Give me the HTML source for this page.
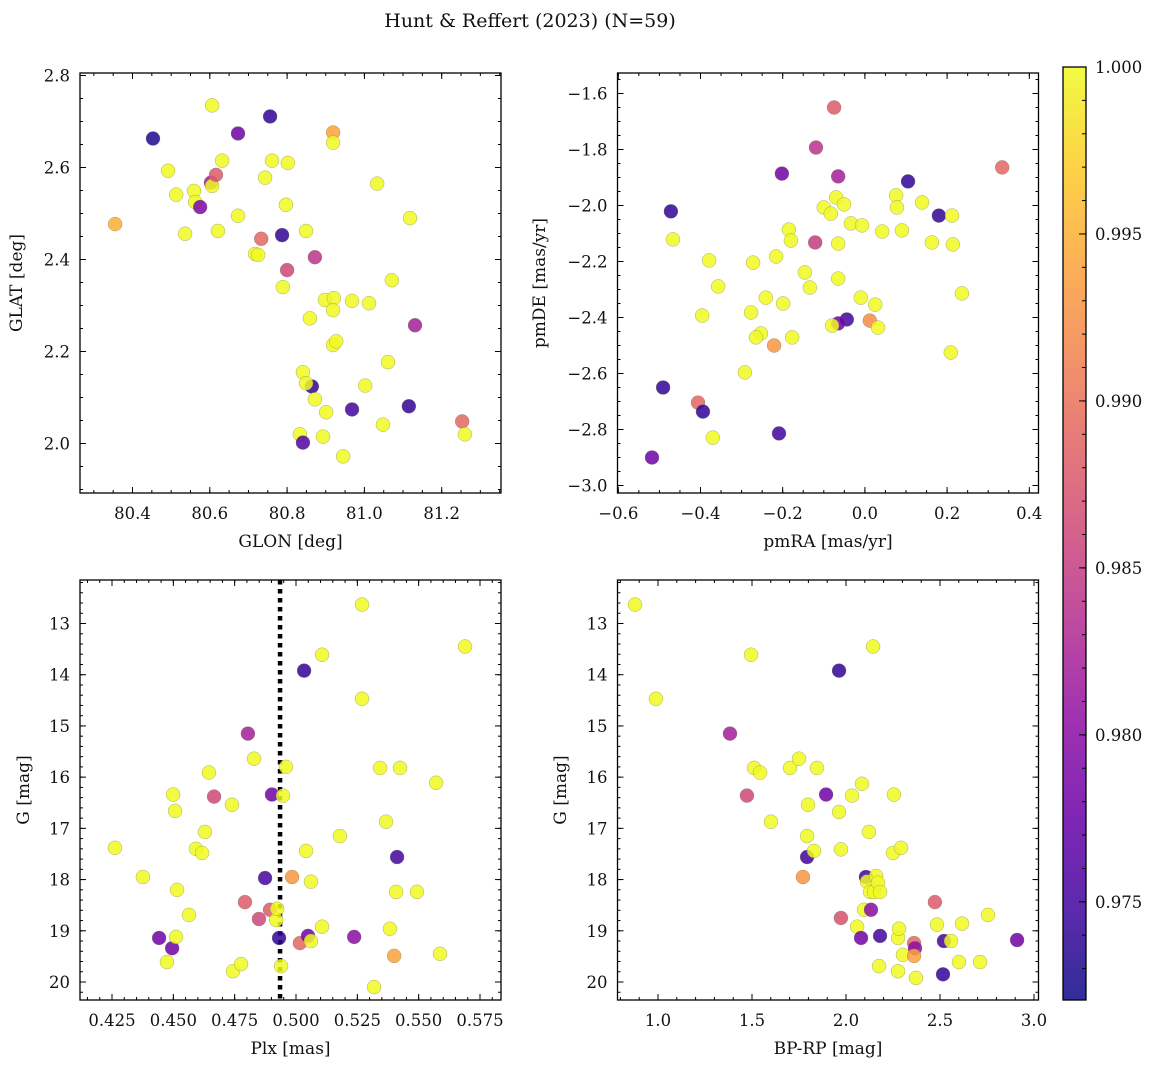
<!DOCTYPE html>
<html><head><meta charset="utf-8"><style>
html,body{margin:0;padding:0;background:#fff;}
svg text{font-family:"DejaVu Serif","Liberation Serif",serif;fill:#111;}
</style></head><body>
<svg id="fig" xmlns="http://www.w3.org/2000/svg" width="1160" height="1067" viewBox="0 0 1160 1067">
<defs>
<linearGradient id="plasma" x1="0" y1="1" x2="0" y2="0">
<stop offset="0" stop-color="#0d0887"/><stop offset="0.1" stop-color="#41049d"/><stop offset="0.2" stop-color="#6a00a8"/><stop offset="0.3" stop-color="#8f0da4"/><stop offset="0.4" stop-color="#b12a90"/><stop offset="0.5" stop-color="#cc4778"/><stop offset="0.6" stop-color="#e16462"/><stop offset="0.7" stop-color="#f2844b"/><stop offset="0.8" stop-color="#fca636"/><stop offset="0.9" stop-color="#fcce25"/><stop offset="1" stop-color="#f0f921"/>
</linearGradient>
</defs>
<text x="530" y="27" font-size="19" text-anchor="middle">Hunt &amp; Reffert (2023) (N=59)</text>
</svg>
<script>
// ---- data ----
const glon = [80.355,80.453,80.492,80.513,80.536,80.559,80.562,80.575,80.606,80.603,80.606,80.616,80.621,80.632,80.673,80.673,80.717,80.725,80.733,80.743,80.756,80.761,80.787,80.789,80.800,80.802,80.797,80.849,80.859,80.864,80.872,80.872,80.841,80.849,80.833,80.841,80.893,80.898,80.919,80.919,80.921,80.919,80.919,80.927,80.901,80.945,80.968,80.968,81.012,81.002,81.033,81.048,81.061,81.071,81.118,81.115,81.131,81.253,81.260];
const glat = [2.477,2.663,2.593,2.541,2.456,2.549,2.525,2.514,2.735,2.567,2.560,2.584,2.462,2.615,2.674,2.495,2.412,2.410,2.445,2.578,2.711,2.615,2.453,2.340,2.377,2.610,2.519,2.462,2.272,2.124,2.405,2.096,2.155,2.131,2.020,2.002,2.015,2.312,2.676,2.654,2.316,2.290,2.214,2.222,2.068,1.972,2.310,2.074,2.305,2.126,2.565,2.041,2.177,2.355,2.490,2.081,2.257,2.048,2.020];
const prob1 = [0.995,0.973,1,1,1,1,1,0.979,1,0.982,1,0.988,1,1,0.978,1,1,1,0.989,1,0.974,1,0.974,1,0.986,1,1,1,1,0.974,0.984,1,1,1,1,0.976,1,1,0.994,1,1,1,1,1,1,1,1,0.975,1,1,1,1,1,1,1,0.974,0.982,0.989,1];

const pmra = [-0.075,0.334,-0.119,-0.202,-0.065,0.105,-0.472,0.180,-0.070,-0.051,-0.100,-0.083,-0.034,-0.007,0.042,0.076,0.078,0.090,0.139,0.212,0.163,0.214,0.236,0.209,-0.467,-0.185,-0.180,-0.121,-0.065,-0.216,-0.379,-0.272,-0.146,-0.065,-0.357,-0.134,-0.241,-0.199,-0.010,0.025,-0.396,-0.277,-0.044,-0.065,-0.080,0.012,0.032,-0.253,-0.265,-0.177,-0.221,-0.292,-0.491,-0.406,-0.394,-0.209,-0.370,-0.518];
const pmde = [-1.65,-1.864,-1.793,-1.886,-1.896,-1.914,-2.021,-2.036,-1.971,-1.996,-2.007,-2.029,-2.064,-2.071,-2.093,-1.964,-2.007,-2.089,-1.989,-2.036,-2.132,-2.139,-2.314,-2.525,-2.121,-2.086,-2.125,-2.132,-2.136,-2.182,-2.196,-2.204,-2.239,-2.261,-2.289,-2.293,-2.329,-2.35,-2.329,-2.354,-2.393,-2.382,-2.407,-2.421,-2.429,-2.411,-2.436,-2.457,-2.471,-2.471,-2.5,-2.596,-2.65,-2.704,-2.736,-2.814,-2.829,-2.9];
const prob2 = [0.988,0.989,0.984,0.978,0.982,0.974,0.974,0.974,1,1,1,1,1,1,1,1,1,1,1,1,1,1,1,1,1,1,1,0.985,1,1,1,1,1,1,1,1,1,1,1,1,1,1,0.975,0.978,1,0.992,1,1,1,1,0.993,1,0.974,0.989,0.974,0.975,1,0.978];

const plx = [0.4262,0.4376,0.4442,0.4474,0.4495,0.4511,0.4499,0.4507,0.4515,0.4564,0.4592,0.4617,0.4629,0.4645,0.4666,0.4739,0.4743,0.4776,0.4792,0.4804,0.4829,0.4849,0.4874,0.4894,0.4902,0.4919,0.4923,0.4931,0.4939,0.4947,0.4959,0.4984,0.5016,0.5033,0.5041,0.5049,0.5061,0.5061,0.5106,0.5106,0.5179,0.5237,0.5269,0.5269,0.5318,0.5343,0.5367,0.5383,0.5412,0.5408,0.5400,0.5424,0.5493,0.5571,0.5587,0.5689];
const gmag3 = [17.38,17.95,19.14,19.61,19.34,19.12,16.34,16.66,18.20,18.69,17.40,17.48,17.07,15.91,16.38,16.54,19.79,19.65,18.44,15.15,15.64,18.77,17.97,18.59,16.34,18.79,18.57,19.14,19.69,16.36,15.80,17.95,19.24,13.92,17.44,19.10,19.20,18.04,13.61,18.92,17.15,19.12,12.63,14.47,20.10,15.82,16.87,18.96,17.56,18.24,19.49,15.82,18.24,16.11,19.45,13.45];
const prob3 = [1,1,0.978,1,0.978,1,1,1,1,1,1,1,1,1,0.986,1,1,1,0.988,0.982,1,0.986,0.975,0.988,0.978,1,1,0.974,1,1,1,0.993,0.989,0.974,1,0.978,1,1,1,1,1,0.98,1,1,1,1,1,1,0.975,1,0.994,1,1,1,1,1];
const plxLine = [0.4935];

const bprp = [0.878,0.989,1.383,1.473,1.495,1.511,1.543,1.601,1.702,1.75,1.798,1.793,1.793,1.830,1.846,1.771,1.894,1.963,1.963,1.973,1.973,2.032,2.059,2.080,2.085,2.096,2.106,2.112,2.122,2.128,2.133,2.149,2.16,2.170,2.181,2.144,2.181,2.176,2.250,2.255,2.277,2.282,2.277,2.293,2.303,2.362,2.367,2.362,2.372,2.473,2.484,2.521,2.516,2.559,2.601,2.617,2.713,2.755,2.910];
const gmag4 = [12.63,14.47,15.15,16.36,13.61,15.82,15.91,16.87,15.82,15.64,16.54,17.15,17.56,17.44,15.82,17.95,16.34,13.92,16.68,17.41,18.75,16.36,18.92,19.14,16.13,18.59,17.95,18.04,17.07,18.24,18.59,18.24,17.93,18.06,18.24,13.45,19.10,19.69,17.48,16.34,19.14,18.96,19.79,17.38,19.47,19.24,19.34,19.49,19.92,18.44,18.88,19.20,19.85,19.20,19.61,18.86,19.61,18.69,19.18];
const prob4 = [1,1,0.982,0.986,1,1,1,1,1,1,1,1,0.975,1,1,0.993,0.978,0.974,1,1,0.987,1,1,0.978,1,1,0.975,1,1,1,0.98,1,1,1,1,1,0.975,1,1,1,1,1,1,1,1,0.989,0.98,0.994,1,0.988,1,0.975,0.974,1,1,1,1,1,0.978];

const cbTicks = [0.975,0.980,0.985,0.990,0.995,1.000];
const cMin = 0.97206, cMax = 1.0;

// ---- helpers ----
const svg = document.getElementById('fig');
const NS = 'http://www.w3.org/2000/svg';
function mk(tag, attrs, parent){const e=document.createElementNS(NS,tag);for(const k in attrs)e.setAttribute(k,attrs[k]);(parent||svg).appendChild(e);return e;}
const stops=[[13,8,135],[65,4,157],[106,0,168],[143,13,164],[177,42,144],[204,71,120],[225,100,98],[242,132,75],[252,166,54],[252,206,37],[240,249,33]];
function plasma(v){let t=(v-cMin)/(cMax-cMin);t=Math.max(0,Math.min(1,t));const p=t*10,i=Math.min(9,Math.floor(p)),f=p-i;const a=stops[i],b=stops[i+1];return 'rgb('+[0,1,2].map(k=>Math.round(a[k]+(b[k]-a[k])*f)).join(',')+')';}
function lin(d0,p0,d1,p1){return v=>p0+(v-d0)*(p1-p0)/(d1-d0);}
function fmt(v,dec){const s=Math.abs(v).toFixed(dec);return (v<-1e-9?'\u2212':'')+s;}

function panel(cfg){
  const g=mk('g',{});
  
  
  const {L,T,R,B}=cfg; const X=cfg.x, Y=cfg.y;
  function ticks(vals,len,axis){vals.forEach(v=>{
    if(axis==='x'){const p=X(v);if(p<L-0.5||p>R+0.5)return;
      mk('line',{x1:p,y1:B,x2:p,y2:B-len,stroke:'#000','stroke-width':1},g);
      mk('line',{x1:p,y1:T,x2:p,y2:T+len,stroke:'#000','stroke-width':1},g);}
    else{const p=Y(v);if(p<T-0.5||p>B+0.5)return;
      mk('line',{x1:L,y1:p,x2:L+len,y2:p,stroke:'#000','stroke-width':1},g);
      mk('line',{x1:R,y1:p,x2:R-len,y2:p,stroke:'#000','stroke-width':1},g);}
  });}
  ticks(cfg.xMinor,3,'x');ticks(cfg.xMajor,6,'x');ticks(cfg.yMinor,3,'y');ticks(cfg.yMajor,6,'y');
  cfg.xMajor.forEach(v=>{const t=mk('text',{x:X(v),y:B+26,'font-size':16.5,'text-anchor':'middle'},g);t.textContent=fmt(v,cfg.xDec);
    
    });
  cfg.yMajor.forEach(v=>{const t=mk('text',{x:L-10,y:Y(v)+6,'font-size':16.5,'text-anchor':'end'},g);t.textContent=fmt(v,cfg.yDec);
    
    });
  const xl=mk('text',{x:(L+R)/2,y:B+54,'font-size':17,'text-anchor':'middle'},g);xl.textContent=cfg.xlabel;
  
  
  const cy=(T+B)/2;
  const yl=mk('text',{x:cfg.ylx,y:cy,'font-size':17,'text-anchor':'middle',transform:'rotate(-90 '+cfg.ylx+' '+cy+')'},g);yl.textContent=cfg.ylabel;
  
  
  if(cfg.vline){cfg.vline.forEach(v=>{const l=mk('line',{x1:X(v),y1:T,x2:X(v),y2:B,stroke:'#000','stroke-width':4.5,'stroke-dasharray':'4.5 4.5'},g);
    
    });}
  for(let i=0;i<cfg.xs.length;i++){
    const c=mk('circle',{cx:X(cfg.xs[i]),cy:Y(cfg.ys[i]),r:7,fill:plasma(cfg.cs[i]),'fill-opacity':0.85,stroke:'#7a7a5a','stroke-width':0.5,'stroke-opacity':0.6},g);
    
    
  }
  const f=mk('rect',{x:L,y:T,width:R-L,height:B-T,fill:'none',stroke:'#000','stroke-width':1.3},g);
  
  
}
function rng(a,b,s){const o=[];for(let v=a;v<=b+s/1000;v+=s)o.push(Math.round(v/s)*s);return o;}

panel({name:'glon-glat-panel',L:80,T:73,R:501,B:493,
  x:lin(80.4,132.5,81.2,441.7),y:lin(2.0,443.5,2.8,75.5),
  xMajor:rng(80.4,81.2,0.2),xMinor:rng(80.25,81.35,0.05),yMajor:rng(2.0,2.8,0.2),yMinor:rng(1.9,2.8,0.05),
  xDec:1,yDec:1,xlabel:'GLON [deg]',ylabel:'GLAT [deg]',ylx:22,xs:glon,ys:glat,cs:prob1});
panel({name:'pm-panel',L:617.5,T:73,R:1038.5,B:493,
  x:lin(-0.6,618.3,0.4,1029.3),y:lin(-1.6,93.5,-3.0,485.5),
  xMajor:rng(-0.6,0.4,0.2),xMinor:rng(-0.6,0.4,0.05),yMajor:rng(-3.0,-1.6,0.2),yMinor:rng(-3.0,-1.55,0.05),
  xDec:1,yDec:1,xlabel:'pmRA [mas/yr]',ylabel:'pmDE [mas/yr]',ylx:545,xs:pmra,ys:pmde,cs:prob2});
panel({name:'plx-g-panel',L:80,T:580,R:501,B:1000,
  x:lin(0.425,112,0.575,480),y:lin(13,623.5,20,982),
  xMajor:rng(0.425,0.575,0.025),xMinor:rng(0.415,0.585,0.005),yMajor:rng(13,20,1),yMinor:rng(12.2,20.2,0.2),
  xDec:3,yDec:0,xlabel:'Plx [mas]',ylabel:'G [mag]',ylx:29,xs:plx,ys:gmag3,cs:prob3,vline:plxLine});
panel({name:'color-g-panel',L:617.5,T:580,R:1038.5,B:1000,
  x:lin(1.0,658,3.0,1034),y:lin(13,623.5,20,982),
  xMajor:rng(1.0,3.0,0.5),xMinor:rng(0.8,3.0,0.1),yMajor:rng(13,20,1),yMinor:rng(12.2,20.2,0.2),
  xDec:1,yDec:0,xlabel:'BP-RP [mag]',ylabel:'G [mag]',ylx:566,xs:bprp,ys:gmag4,cs:prob4});

// colorbar
const cb=mk('g',{});


const CY=lin(cMin,1000,cMax,67);
mk('rect',{x:1063,y:67,width:23,height:933,fill:'url(#plasma)','fill-opacity':0.85},cb);
rng(0.973,1.0,0.001).forEach(v=>{const p=CY(v);mk('line',{x1:1086,y1:p,x2:1082,y2:p,stroke:'#000','stroke-width':1},cb);});
cbTicks.forEach(v=>{const p=CY(v);mk('line',{x1:1086,y1:p,x2:1079,y2:p,stroke:'#000','stroke-width':1},cb);
  const t=mk('text',{x:1095,y:p+6,'font-size':16.5},cb);t.textContent=v.toFixed(3);
  
  });
mk('rect',{x:1063,y:67,width:23,height:933,fill:'none',stroke:'#000','stroke-width':1.3},cb);
</script>
</body></html>
